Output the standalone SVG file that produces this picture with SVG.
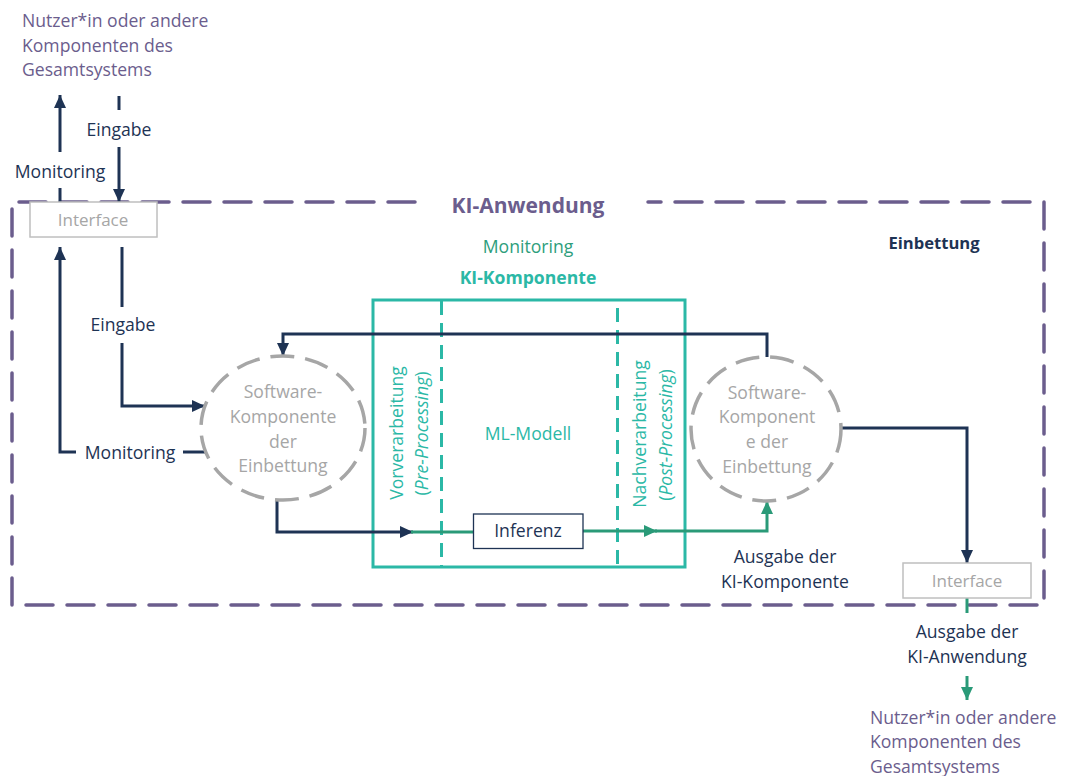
<svg xmlns="http://www.w3.org/2000/svg" width="1074" height="776" viewBox="0 0 1074 776">
<defs>
<marker id="an" markerUnits="userSpaceOnUse" markerWidth="14" markerHeight="12" refX="13" refY="6" orient="auto"><path d="M0,0 L13,6 L0,12 z" fill="#1e3354"/></marker>
<marker id="ag" markerUnits="userSpaceOnUse" markerWidth="14" markerHeight="12" refX="13" refY="6" orient="auto"><path d="M0,0 L13,6 L0,12 z" fill="#2a9a78"/></marker>
<style>
text{font-family:"Open Sans","Liberation Sans",sans-serif;font-size:17.6px}
.pu{fill:#6b5d8d}
.nv{fill:#1e3354}
.gr{fill:#a6a6a6}
.tl{fill:#2bb8a6}
.gn{fill:#2e9e7c}
.c{text-anchor:middle}
.b{font-weight:bold}
.ln{fill:none;stroke:#1e3354;stroke-width:3}
.lg{fill:none;stroke:#2a9a78;stroke-width:3}
.ifc{fill:#fff;stroke:#bfbfbf;stroke-width:1.5}
.circ{fill:none;stroke:#a6a6a6;stroke-width:3.5;stroke-dasharray:24 11}
</style>
</defs>
<rect width="1074" height="776" fill="#fff"/>

<g id="ki-anwendung">
<path d="M415,202 H12 V605 H1044 V202 H648" fill="none" stroke="#6b5d8d" stroke-width="3.5" stroke-dasharray="27 14" stroke-linecap="round"/>
<text x="528" y="213" class="pu c b" style="font-size:21px">KI-Anwendung</text>
<text x="934" y="249" class="nv c b" style="font-size:16.6px">Einbettung</text>
</g>

<g id="user-top">
<text class="pu" x="22" y="27">Nutzer*in oder andere</text>
<text class="pu" x="22" y="52">Komponenten des</text>
<text class="pu" x="22" y="76">Gesamtsystems</text>
</g>

<g id="ki-komponente">
<rect x="373" y="300" width="312" height="267" fill="none" stroke="#2bb8a6" stroke-width="3"/>
<line x1="441.5" y1="301" x2="441.5" y2="566" stroke="#2bb8a6" stroke-width="3" stroke-dasharray="14 8"/>
<line x1="617.5" y1="308" x2="617.5" y2="566" stroke="#2bb8a6" stroke-width="3" stroke-dasharray="14 8"/>
<text x="528" y="253" class="gn c">Monitoring</text>
<text x="528" y="284" class="tl c b">KI-Komponente</text>
<text x="528" y="440" class="tl c">ML-Modell</text>
<text transform="translate(403,433) rotate(-90)" class="tl c">Vorverarbeitung</text>
<text transform="translate(428,433.5) rotate(-90)" class="tl c"><tspan>(</tspan><tspan font-style="italic">Pre-Processing</tspan><tspan>)</tspan></text>
<text transform="translate(646,434) rotate(-90)" class="tl c">Nachverarbeitung</text>
<text transform="translate(672,435) rotate(-90)" class="tl c"><tspan>(</tspan><tspan font-style="italic">Post-Processing</tspan><tspan>)</tspan></text>
</g>

<g id="connectors">
<line x1="60" y1="202" x2="60" y2="188" class="ln"/>
<line x1="60" y1="152" x2="60" y2="95" class="ln" marker-end="url(#an)"/>
<line x1="119" y1="96" x2="119" y2="110" class="ln"/>
<line x1="119" y1="147" x2="119" y2="202" class="ln" marker-end="url(#an)"/>
<path d="M76,452 H60 V247" class="ln" marker-end="url(#an)"/>
<line x1="183" y1="452" x2="206" y2="452" class="ln"/>
<line x1="122" y1="247" x2="122" y2="307" class="ln"/>
<path d="M122,343 V406 H205" class="ln" marker-end="url(#an)"/>
<path d="M767,357 V334 H283 V356" class="ln" marker-end="url(#an)"/>
<path d="M277,500 V532 H413" class="ln" marker-end="url(#an)"/>
<line x1="411" y1="532" x2="474" y2="532" class="lg"/>
<line x1="583" y1="531" x2="657" y2="531" class="lg" marker-end="url(#ag)"/>
<path d="M655,531 H767 V501" class="lg" marker-end="url(#ag)"/>
<path d="M841,428 H967 V563" class="ln" marker-end="url(#an)"/>
<line x1="967" y1="598" x2="967" y2="613" class="lg"/>
<line x1="967" y1="676" x2="967" y2="700" class="lg" marker-end="url(#ag)"/>
</g>

<g id="labels">
<text x="60" y="178" class="nv c">Monitoring</text>
<text x="119" y="136" class="nv c">Eingabe</text>
<text x="130" y="459" class="nv c">Monitoring</text>
<text x="123" y="331" class="nv c">Eingabe</text>
<text x="785" y="563" class="nv c">Ausgabe der</text>
<text x="785" y="588" class="nv c">KI-Komponente</text>
</g>

<g id="interface-top">
<rect x="30" y="202" width="127" height="35" class="ifc"/>
<text x="93" y="226" class="gr c" style="font-size:17px">Interface</text>
</g>

<g id="sw-left">
<ellipse cx="283" cy="428" rx="82" ry="72" class="circ"/>
<text x="283" y="398" class="gr c">Software-</text>
<text x="283" y="423" class="gr c">Komponente</text>
<text x="283" y="448" class="gr c">der</text>
<text x="283" y="472" class="gr c">Einbettung</text>
</g>

<g id="sw-right">
<ellipse cx="766" cy="429" rx="75" ry="72" class="circ"/>
<text x="767" y="399" class="gr c">Software-</text>
<text x="767" y="423" class="gr c">Komponent</text>
<text x="767" y="448" class="gr c">e der</text>
<text x="767" y="473" class="gr c">Einbettung</text>
</g>

<g id="inferenz">
<rect x="473.5" y="514" width="109.5" height="34.5" fill="#fff" stroke="#1e3354" stroke-width="1.3"/>
<text x="528" y="537" class="nv c">Inferenz</text>
</g>

<g id="interface-bottom">
<rect x="903" y="563" width="128" height="35" class="ifc"/>
<text x="967" y="587" class="gr c" style="font-size:17px">Interface</text>
</g>

<g id="output-bottom">
<text x="967" y="638" class="nv c">Ausgabe der</text>
<text x="967" y="663" class="nv c">KI-Anwendung</text>
</g>

<g id="user-bottom">
<text class="pu" x="870" y="724">Nutzer*in oder andere</text>
<text class="pu" x="870" y="748">Komponenten des</text>
<text class="pu" x="870" y="773">Gesamtsystems</text>
</g>
</svg>
